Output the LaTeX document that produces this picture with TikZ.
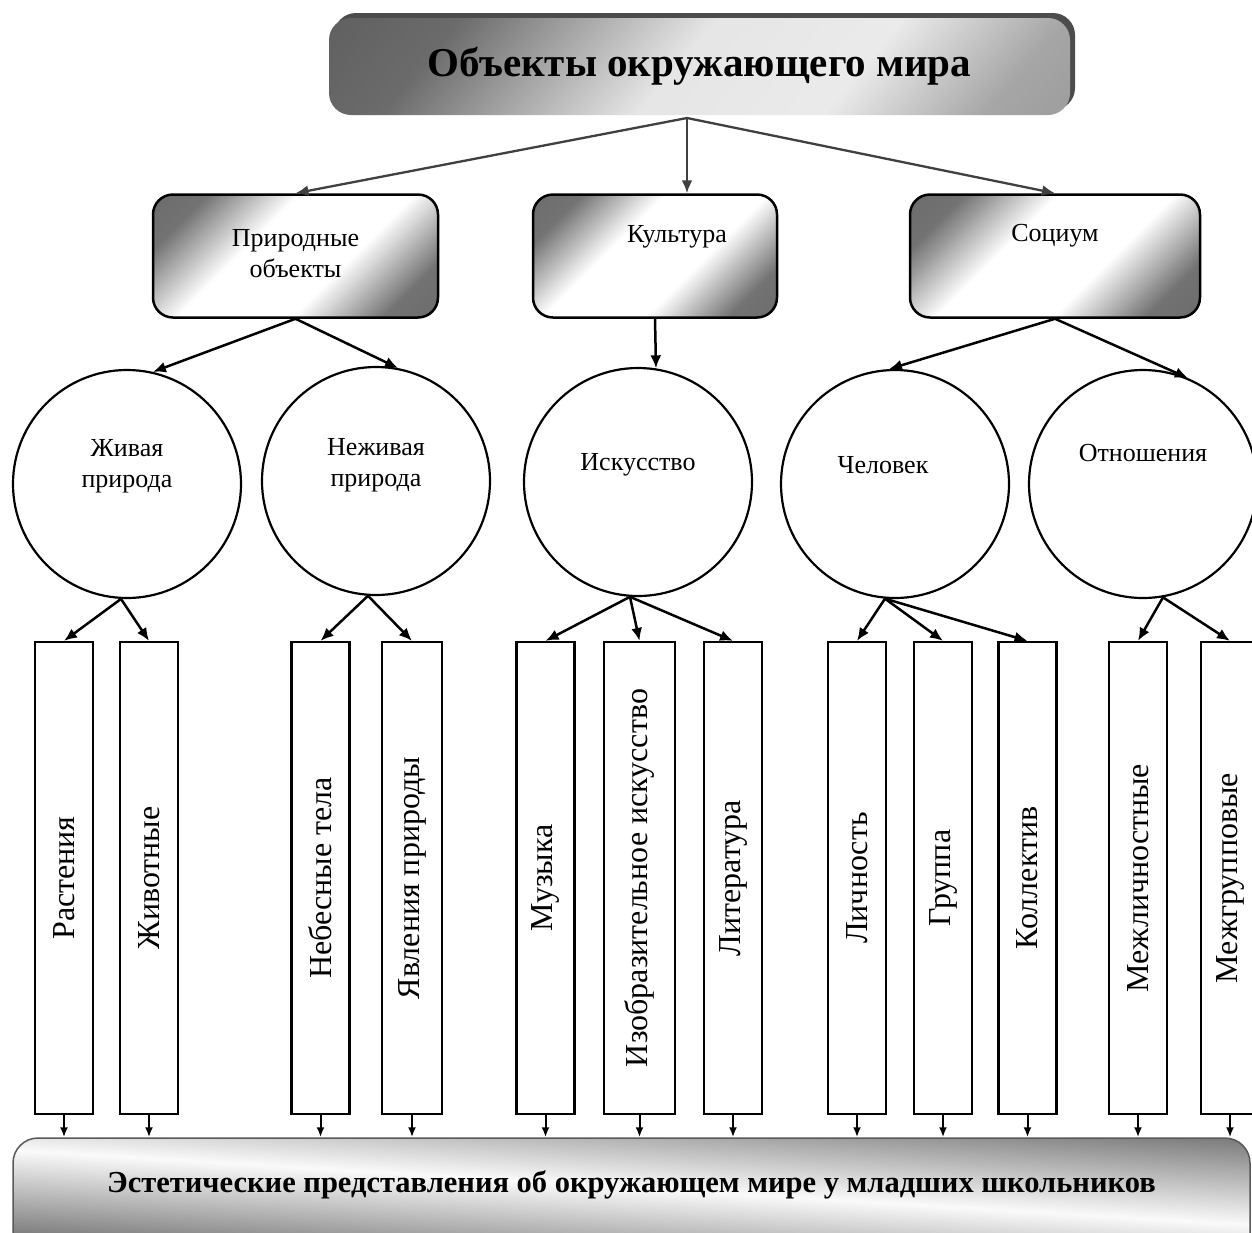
\documentclass[tikz,border=0pt]{standalone}
\usepackage{fontspec}
\setmainfont{Liberation Serif}
\usetikzlibrary{arrows.meta,shadows}
\pgfdeclarehorizontalshading{tilegrad}{100bp}{color(0bp)=(black!62); color(24bp)=(black!55);
  color(40bp)=(white); color(60bp)=(white); color(76bp)=(black!55); color(100bp)=(black!62)}
\pgfdeclarehorizontalshading{headgrad}{100bp}{color(0bp)=(black!68); color(26bp)=(black!58);
  color(48bp)=(black!10); color(64bp)=(black!8); color(78bp)=(black!35); color(100bp)=(black!45)}
\tikzset{>={Latex[length=13pt,width=11pt]}}
\tikzset{headbox/.style={rounded corners=22pt, minimum width=741pt, minimum height=97pt,
      shade, shading=headgrad, shading angle=-40,
      drop shadow={shadow xshift=5pt, shadow yshift=5pt, fill=black!70, opacity=1},
      font=\fontsize{41}{48}\selectfont\bfseries},
    tile/.style={draw, line width=2.5pt, rounded corners=20pt, minimum height=123pt,
      shade, shading=tilegrad, shading angle=-45},
    tiletext/.style={font=\fontsize{26}{31}\selectfont, align=center},
    orb/.style={circle, draw, line width=2.2pt, minimum size=228pt, inner sep=0pt},
    bar/.style={draw, line width=2.2pt, fill=white, minimum height=472pt, inner sep=0pt,
      font=\fontsize{32}{38}\selectfont},
    footbox/.style={draw=black!65, line width=1.5pt, rounded corners=25pt,
      minimum width=1237pt, minimum height=130pt},
    foottext/.style={font=\fontsize{30.5}{36}\selectfont\bfseries},
    toplink/.style={->, line width=2.3pt, draw=black!75},
    link/.style={->, line width=2.5pt},
    feed/.style={-{Latex[length=10pt,width=8pt]}, line width=2pt}}

\begin{document}
\begin{tikzpicture}[x=1pt,y=-1pt]
  \clip (0,0) rectangle (1252,1232);
  \fill[white] (0,0) rectangle (1252,1232);

  % top level
  \node[headbox] (world) at (699.5,66.5) {Объекты окружающего мира};
  \coordinate (split) at (687,118);

  % second level
  \node[tile, minimum width=285pt, label={[tiletext, yshift=2pt]center:Природные\\объекты}] (nat) at (295.5,256) {};
  \node[tile, minimum width=244pt, label={[tiletext, xshift=22pt, yshift=19pt]center:Культура}] (cult) at (655,256) {};
  \node[tile, minimum width=290pt, label={[tiletext, yshift=20pt]center:Социум}] (soc) at (1055,256) {};

  \draw[toplink] (split) -- (nat.north);
  \draw[toplink] (split) -- (split |- cult.north);
  \draw[toplink] (split) -- (soc.north);

  % third level
  \node[orb, label={[tiletext, yshift=18pt]center:Живая\\природа}] (liv) at (127,484) {};
  \node[orb, label={[tiletext, yshift=16pt]center:Неживая\\природа}] (nonliv) at (376,481) {};
  \node[orb, label={[tiletext, yshift=17pt]center:Искусство}] (art) at (638,482) {};
  \node[orb, label={[tiletext, xshift=-12pt, yshift=19pt]center:Человек}] (man) at (895,484) {};
  \node[orb, label={[tiletext, yshift=31pt]center:Отношения}] (rel) at (1143,484) {};

  \draw[link] (nat.south) -- (liv.77);
  \draw[link] (nat.south) -- (nonliv.79);
  \draw[link] (cult.south) -- (art.81.5);
  \draw[link] (soc.south) -- (man.93);
  \draw[link] (soc.south) -- (rel.67);

  % fourth level
  \node[bar, minimum width=58pt] (plants) at (64,878) {\rotatebox{90}{Растения}};
  \node[bar, minimum width=58pt] (animals) at (149,878) {\rotatebox{90}{Животные}};
  \node[bar, minimum width=58pt] (bodies) at (320.5,878) {\rotatebox{90}{Небесные тела}};
  \node[bar, minimum width=60pt] (phenom) at (412,878) {\rotatebox{90}{Явления природы}};
  \node[bar, minimum width=58pt] (music) at (545.5,878) {\rotatebox{90}{Музыка}};
  \node[bar, minimum width=71pt] (fine) at (639.5,878) {\rotatebox{90}{Изобразительное искусство}};
  \node[bar, minimum width=58pt] (lit) at (733,878) {\rotatebox{90}{Литература}};
  \node[bar, minimum width=58pt] (pers) at (857,878) {\rotatebox{90}{Личность}};
  \node[bar, minimum width=58pt] (group) at (943,878) {\rotatebox{90}{Группа}};
  \node[bar, minimum width=58pt] (coll) at (1027.5,878) {\rotatebox{90}{Коллектив}};
  \node[bar, minimum width=58pt] (inter) at (1138,878) {\rotatebox{90}{Межличностные}};
  \node[bar, minimum width=58pt] (intergr) at (1230,878) {\rotatebox{90}{Межгрупповые}};

  \draw[link] (liv.-93) -- (plants.north);
  \draw[link] (liv.-93) -- (animals.north);
  \draw[link] (nonliv.-94) -- (bodies.north);
  \draw[link] (nonliv.-94) -- (phenom.north);
  \draw[link] (art.-94) -- (music.north);
  \draw[link] (art.-94) -- (fine.north);
  \draw[link] (art.-94) -- (lit.north);
  \draw[link] (man.-95) -- (pers.north);
  \draw[link] (man.-95) -- (group.north);
  \draw[link] (man.-95) -- (coll.north);
  \draw[link] (rel.-80) -- (inter.north);
  \draw[link] (rel.-80) -- (intergr.north);

  % result, slanted shading behind the box
  \begin{scope}
    \clip[rounded corners=25pt] (13,1138) rectangle (1250,1268);
    \shade[transform canvas={yslant=-0.0606}, top color=black!60, bottom color=black!60,
      middle color=black!2] (0,1049) rectangle (1260,1249);
  \end{scope}
  \node[footbox, label={[foottext, yshift=18pt]center:Эстетические представления об окружающем мире у младших школьников}] (aesth) at (631.5,1203) {};

  \foreach \b in {plants,animals,bodies,phenom,music,fine,lit,pers,group,coll,inter,intergr}
    \draw[feed] (\b.south) -- (\b.south |- aesth.north);
\end{tikzpicture}
\end{document}
